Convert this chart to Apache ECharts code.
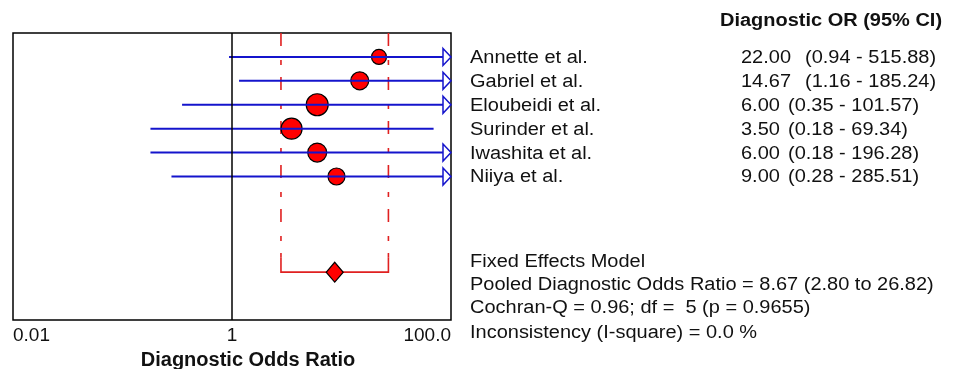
<!DOCTYPE html>
<html>
<head>
<meta charset="utf-8">
<script src="https://cdn.jsdelivr.net/npm/echarts@6/dist/echarts.min.js"></script>
<style>
html, body { margin: 0; padding: 0; background: #fff; }
#chart { width: 966px; height: 369px; }
</style>
</head>
<body>
<div id="chart"></div>
<script>
// study data (diagnostic odds ratio with 95% CI)
const studyNames = ['Annette et al.', 'Gabriel et al.', 'Eloubeidi et al.', 'Surinder et al.', 'Iwashita et al.', 'Niiya et al.'];
const oddsRatios = [22.00, 14.67, 6.00, 3.50, 6.00, 9.00];
const ciLower = [0.94, 1.16, 0.35, 0.18, 0.18, 0.28];
const ciUpper = [515.88, 185.24, 101.57, 69.34, 196.28, 285.51];
const studyWeights = [10.6, 15.3, 22.8, 20.8, 17.0, 13.6]; // relative weight (%), drives marker size

// pooled estimate
const pooledOR = 8.67;
const pooledLower = 2.80;
const pooledUpper = 26.82;

// axis
const axisMin = 0.01;
const axisMax = 100;
const tickLabels = { '-2': '0.01', '0': '1', '2': '100.0' };

const summaryLines = [
    'Fixed Effects Model',
    'Pooled Diagnostic Odds Ratio = 8.67 (2.80 to 26.82)',
    'Cochran-Q = 0.96; df =  5 (p = 0.9655)',
    'Inconsistency (I-square) = 0.0 %'
];

const FONT = "'Liberation Sans', Arial, sans-serif";
const STRETCH = 1.11;
const BLUE = '#1414cc';
const RED = '#ff0000';
const pooledRow = studyNames.length + 3;

const fmt = v => v.toFixed(2);

const studyData = studyNames.map((n, i) => [ciLower[i], ciUpper[i], oddsRatios[i], i]);

function txt(text, x, y, opts) {
    return {
        type: 'text', x: x, y: y, scaleX: STRETCH,
        style: Object.assign({
            text: text, fill: '#111', font: '18px ' + FONT,
            align: 'left', verticalAlign: 'middle'
        }, opts || {})
    };
}

const chart = echarts.init(document.getElementById('chart'));
chart.setOption({
    animation: false,
    grid: {
        left: 13, right: 515, top: 33, bottom: 49,
        outerBoundsMode: 'none', containLabel: false,
        show: true, borderColor: '#000', borderWidth: 1.5, backgroundColor: 'transparent'
    },
    xAxis: {
        type: 'log', logBase: 10, min: axisMin, max: axisMax,
        axisLine: { show: false },
        axisTick: { show: false },
        splitLine: { show: false },
        axisLabel: {
            margin: 6, fontSize: 19, color: '#111', fontFamily: FONT,
            alignMinLabel: 'left', alignMaxLabel: 'right',
            formatter: v => tickLabels[String(Math.round(Math.log10(v)))] || ''
        },
        name: 'Diagnostic Odds Ratio',
        nameLocation: 'middle',
        nameGap: 30,
        nameTextStyle: { fontSize: 20, fontWeight: 'bold', color: '#111', fontFamily: FONT, padding: [0, 0, 0, 32] }
    },
    yAxis: { type: 'value', min: -1, max: pooledRow + 2, inverse: true, show: false },
    series: [
        {
            // study markers
            type: 'scatter',
            symbol: 'circle',
            z: 2,
            itemStyle: { color: RED, borderColor: '#000', borderWidth: 1.2, opacity: 1 },
            data: oddsRatios.map((v, i) => ({ value: [v, i], symbolSize: Math.sqrt(studyWeights[i]) * 4.6 })),
            markLine: {
                silent: true, symbol: 'none', label: { show: false },
                lineStyle: { color: '#000', width: 1.5, type: 'solid' },
                data: [{ xAxis: 1 }]
            }
        },
        {
            // confidence interval lines + labels on the right
            type: 'custom',
            z: 3,
            data: studyData,
            renderItem: function (params, api) {
                const row = api.value(3);
                const hiVal = api.value(1);
                const lo = api.coord([api.value(0), row]);
                const edge = api.coord([axisMax, row]);
                const clipped = hiVal > axisMax;
                const hi = clipped ? [edge[0] - 8, edge[1]] : api.coord([hiVal, row]);
                const children = [{
                    type: 'line',
                    shape: { x1: lo[0], y1: lo[1], x2: hi[0], y2: hi[1] },
                    style: { stroke: BLUE, lineWidth: 2 }
                }];
                if (clipped) {
                    children.push({
                        type: 'polygon',
                        shape: { points: [[edge[0] - 8, edge[1] - 8.5], [edge[0], edge[1]], [edge[0] - 8, edge[1] + 8.5]] },
                        style: { fill: '#fff', stroke: BLUE, lineWidth: 1.5 }
                    });
                }
                const orVal = api.value(2);
                children.push(txt(studyNames[params.dataIndex], edge[0] + 19, edge[1] + 1));
                children.push(txt(fmt(orVal), edge[0] + 290, edge[1] + 1));
                children.push(txt('(' + fmt(api.value(0)) + ' - ' + fmt(hiVal) + ')',
                    edge[0] + (orVal >= 10 ? 354 : 337), edge[1] + 1));
                return { type: 'group', children: children };
            }
        },
        {
            // pooled confidence bracket
            type: 'custom',
            z: 1,
            data: [[pooledLower, pooledUpper, pooledRow]],
            renderItem: function (params, api) {
                const row = api.value(2);
                const l = api.coord([api.value(0), row]);
                const r = api.coord([api.value(1), row]);
                const top = api.coord([api.value(0), -1])[1];
                const bend = l[1] - 15;
                const dash = { stroke: '#e02020', lineWidth: 1.6, lineDash: [13, 14, 5, 12], fill: 'none' };
                const solid = { stroke: '#e02020', lineWidth: 1.6, fill: 'none' };
                return {
                    type: 'group',
                    children: [
                        { type: 'line', shape: { x1: l[0], y1: top, x2: l[0], y2: bend }, style: dash },
                        { type: 'line', shape: { x1: r[0], y1: top, x2: r[0], y2: bend }, style: dash },
                        { type: 'polyline', shape: { points: [[l[0], bend], [l[0], l[1]], [r[0], r[1]], [r[0], bend]] }, style: solid }
                    ]
                };
            }
        },
        {
            // pooled estimate diamond
            type: 'scatter',
            symbol: 'diamond',
            symbolSize: [17, 20],
            z: 4,
            itemStyle: { color: RED, borderColor: '#000', borderWidth: 1.2, opacity: 1 },
            data: [[pooledOR, pooledRow]]
        }
    ],
    graphic: [
        txt('Diagnostic OR (95% CI)', 720, 21, { font: 'bold 18px ' + FONT }),
        txt(summaryLines[0], 470, 262),
        txt(summaryLines[1], 470, 285),
        txt(summaryLines[2], 470, 308),
        txt(summaryLines[3], 470, 333)
    ]
});
</script>
</body>
</html>
